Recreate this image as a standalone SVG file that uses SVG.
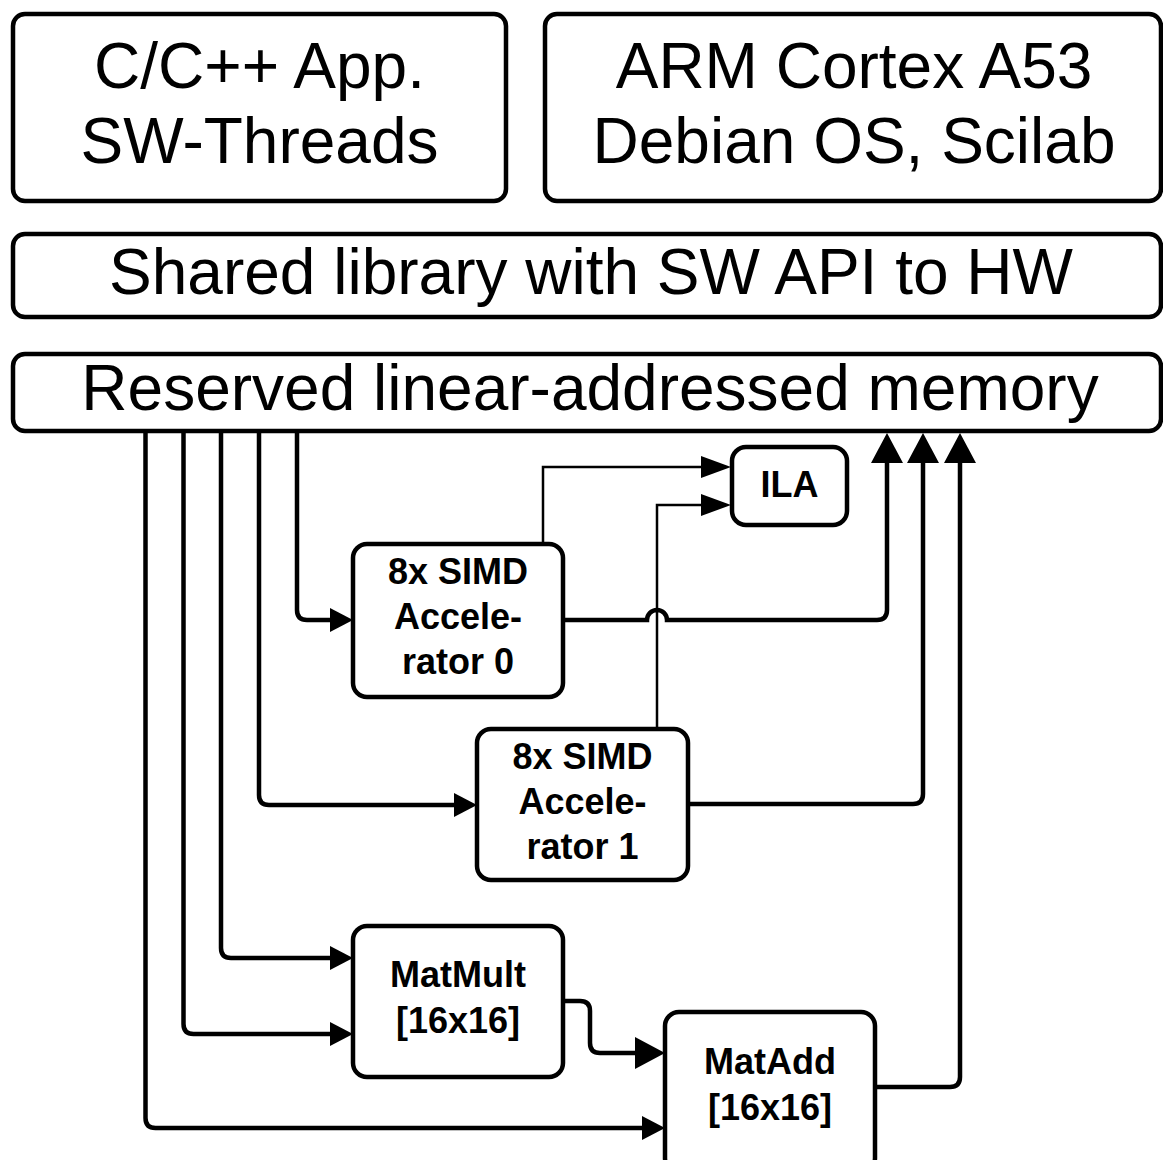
<svg xmlns="http://www.w3.org/2000/svg" width="1163" height="1160" viewBox="0 0 1163 1160">
  <style>
    .box { fill: #ffffff; stroke: #000000; stroke-width: 4.5; }
    .big { font-family: "Liberation Sans", Arial, sans-serif; font-size: 64px; fill: #000000; text-anchor: middle; }
    .lbl { font-family: "Liberation Sans", Arial, sans-serif; font-size: 36px; font-weight: bold; fill: #000000; text-anchor: middle; }
    .wire { fill: none; stroke: #000000; stroke-width: 4.5; }
    .thin { fill: none; stroke: #000000; stroke-width: 2.5; }
  </style>
  <defs>
    <marker id="arrowSmall" viewBox="0 0 23 24" markerWidth="23" markerHeight="24" refX="1" refY="12" orient="auto" markerUnits="userSpaceOnUse">
      <path d="M0,0 L23,12 L0,24 Z" fill="#000000"/>
    </marker>
    <marker id="arrowBig" viewBox="0 0 30 32" markerWidth="30" markerHeight="32" refX="1" refY="16" orient="auto" markerUnits="userSpaceOnUse">
      <path d="M0,0 L30,16 L0,32 Z" fill="#000000"/>
    </marker>
    <marker id="arrowIla" viewBox="0 0 30 22" markerWidth="30" markerHeight="22" refX="1" refY="11" orient="auto" markerUnits="userSpaceOnUse">
      <path d="M0,0 L30,11 L0,22 Z" fill="#000000"/>
    </marker>
  </defs>

  <!-- software stack -->
  <g id="app">
    <rect class="box" x="13" y="14" width="493" height="187" rx="12"/>
    <text class="big" x="259.5" y="88">C/C++ App.</text>
    <text class="big" x="259.5" y="163">SW-Threads</text>
  </g>
  <g id="arm">
    <rect class="box" x="545" y="14" width="616" height="187" rx="12"/>
    <text class="big" x="854" y="88">ARM Cortex A53</text>
    <text class="big" x="854" y="163">Debian OS, Scilab</text>
  </g>
  <g id="shared-lib">
    <rect class="box" x="13" y="234" width="1148" height="83" rx="12"/>
    <text class="big" x="591" y="294">Shared library with SW API to HW</text>
  </g>
  <g id="memory">
    <rect class="box" x="13" y="354" width="1148" height="77" rx="12"/>
    <text class="big" x="590" y="410">Reserved linear-addressed memory</text>
  </g>

  <!-- connectors -->
  <g id="connectors">
    <path class="wire" d="M297,431 V610 Q297,620 307,620 H331" marker-end="url(#arrowSmall)"/>
    <path class="wire" d="M259,431 V795 Q259,805 269,805 H455" marker-end="url(#arrowSmall)"/>
    <path class="wire" d="M221,431 V948 Q221,958 231,958 H331" marker-end="url(#arrowSmall)"/>
    <path class="wire" d="M183.5,431 V1024 Q183.5,1034 193.5,1034 H331" marker-end="url(#arrowSmall)"/>
    <path class="wire" d="M145.5,431 V1118 Q145.5,1128 155.5,1128 H643" marker-end="url(#arrowSmall)"/>
    <path class="wire" d="M563,620 H647 A10,10 0 0 1 667,620 H877 Q887,620 887,610 V462" marker-end="url(#arrowBig)"/>
    <path class="wire" d="M688,804 H913 Q923,804 923,794 V462" marker-end="url(#arrowBig)"/>
    <path class="wire" d="M875,1087 H950 Q960,1087 960,1077 V462" marker-end="url(#arrowBig)"/>
    <path class="wire" d="M563,1001 H580 Q590,1001 590,1011 V1043 Q590,1053 600,1053 H636" marker-end="url(#arrowBig)"/>
    <path class="thin" d="M543,544 V467 H702" marker-end="url(#arrowIla)"/>
    <path class="thin" d="M657,729 V505 H702" marker-end="url(#arrowIla)"/>
  </g>

  <!-- hardware blocks -->
  <g id="ila">
    <rect class="box" x="732" y="447" width="115" height="78" rx="14"/>
    <text class="lbl" x="789.5" y="497">ILA</text>
  </g>
  <g id="accel0">
    <rect class="box" x="353" y="544" width="210" height="153" rx="14"/>
    <text class="lbl" x="458" y="584">8x SIMD</text>
    <text class="lbl" x="458" y="629">Accele-</text>
    <text class="lbl" x="458" y="674">rator 0</text>
  </g>
  <g id="accel1">
    <rect class="box" x="477" y="729" width="211" height="151" rx="14"/>
    <text class="lbl" x="582.5" y="769">8x SIMD</text>
    <text class="lbl" x="582.5" y="814">Accele-</text>
    <text class="lbl" x="582.5" y="859">rator 1</text>
  </g>
  <g id="matmult">
    <rect class="box" x="353" y="926" width="210" height="151" rx="14"/>
    <text class="lbl" x="458" y="987">MatMult</text>
    <text class="lbl" x="458" y="1033">[16x16]</text>
  </g>
  <g id="matadd">
    <rect class="box" x="665" y="1012" width="210" height="160" rx="14"/>
    <text class="lbl" x="770" y="1074">MatAdd</text>
    <text class="lbl" x="770" y="1120">[16x16]</text>
  </g>
</svg>
